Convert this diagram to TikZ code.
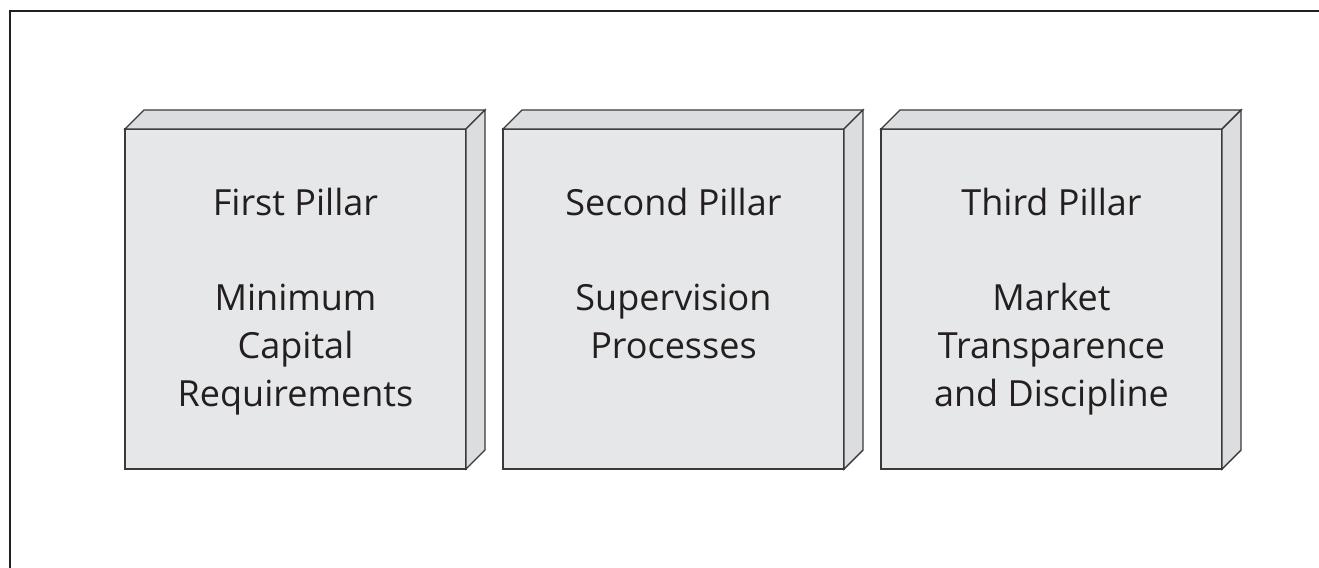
\documentclass[tikz,border=0pt]{standalone}
\usepackage{fontspec}
\setmainfont{Open Sans}
\usepackage{xcolor}
\definecolor{ink}{HTML}{231F20}
\definecolor{face}{HTML}{E6E7E8}
\definecolor{side}{HTML}{DCDDDE}
\definecolor{edge}{HTML}{3A3A3C}
\usetikzlibrary{positioning,calc}
\tikzset{
  pillar/.style={draw=edge,fill=face,line width=0.7pt,minimum width=170.5pt,minimum height=170pt,inner sep=0pt,outer sep=0pt},
  depth/.style={draw=edge,fill=side,line width=0.7pt,line join=miter},
  ttl/.style={font=\fontsize{18}{24}\selectfont,text=ink,anchor=base,inner sep=0pt},
  body/.style={font=\fontsize{18}{24}\selectfont,text=ink,align=center,anchor=base,inner sep=0pt},
}
\begin{document}
\begin{tikzpicture}[x=0.5pt,y=-0.5pt]
\useasboundingbox (0,0) rectangle (1319,568);
\draw[ink,line width=1.2pt] (10,572) -- (10,11) -- (1325,11);
\node[pillar] (p1) at (295.5,299) {};
\node[pillar,right=18.5pt of p1] (p2) {};
\node[pillar,right=18.5pt of p2] (p3) {};
\foreach \p in {p1,p2,p3}{
  \draw[depth] (\p.north west) -- ++(19,-19) -- ++(341,0) -- (\p.north east) -- cycle;
  \draw[depth] (\p.north east) -- ++(19,-19) -- ++(0,340) -- (\p.south east) -- cycle;
}
\node[ttl] (t1) at ([yshift=-43pt]p1.north) {First Pillar};
\node[ttl] (t2) at ([yshift=-43pt]p2.north) {Second Pillar};
\node[ttl] (t3) at ([yshift=-43pt]p3.north) {Third Pillar};
% base of a multi-line node is its last line
\node[body] (b1) at ([yshift=-138.5pt]p1.north) {Minimum\\Capital\\Requirements};
\node[body] (b2) at ([yshift=-114.5pt]p2.north) {Supervision\\Processes};
\node[body] (b3) at ([yshift=-138.5pt]p3.north) {Market\\Transparence\\and Discipline};
\end{tikzpicture}
\end{document}
